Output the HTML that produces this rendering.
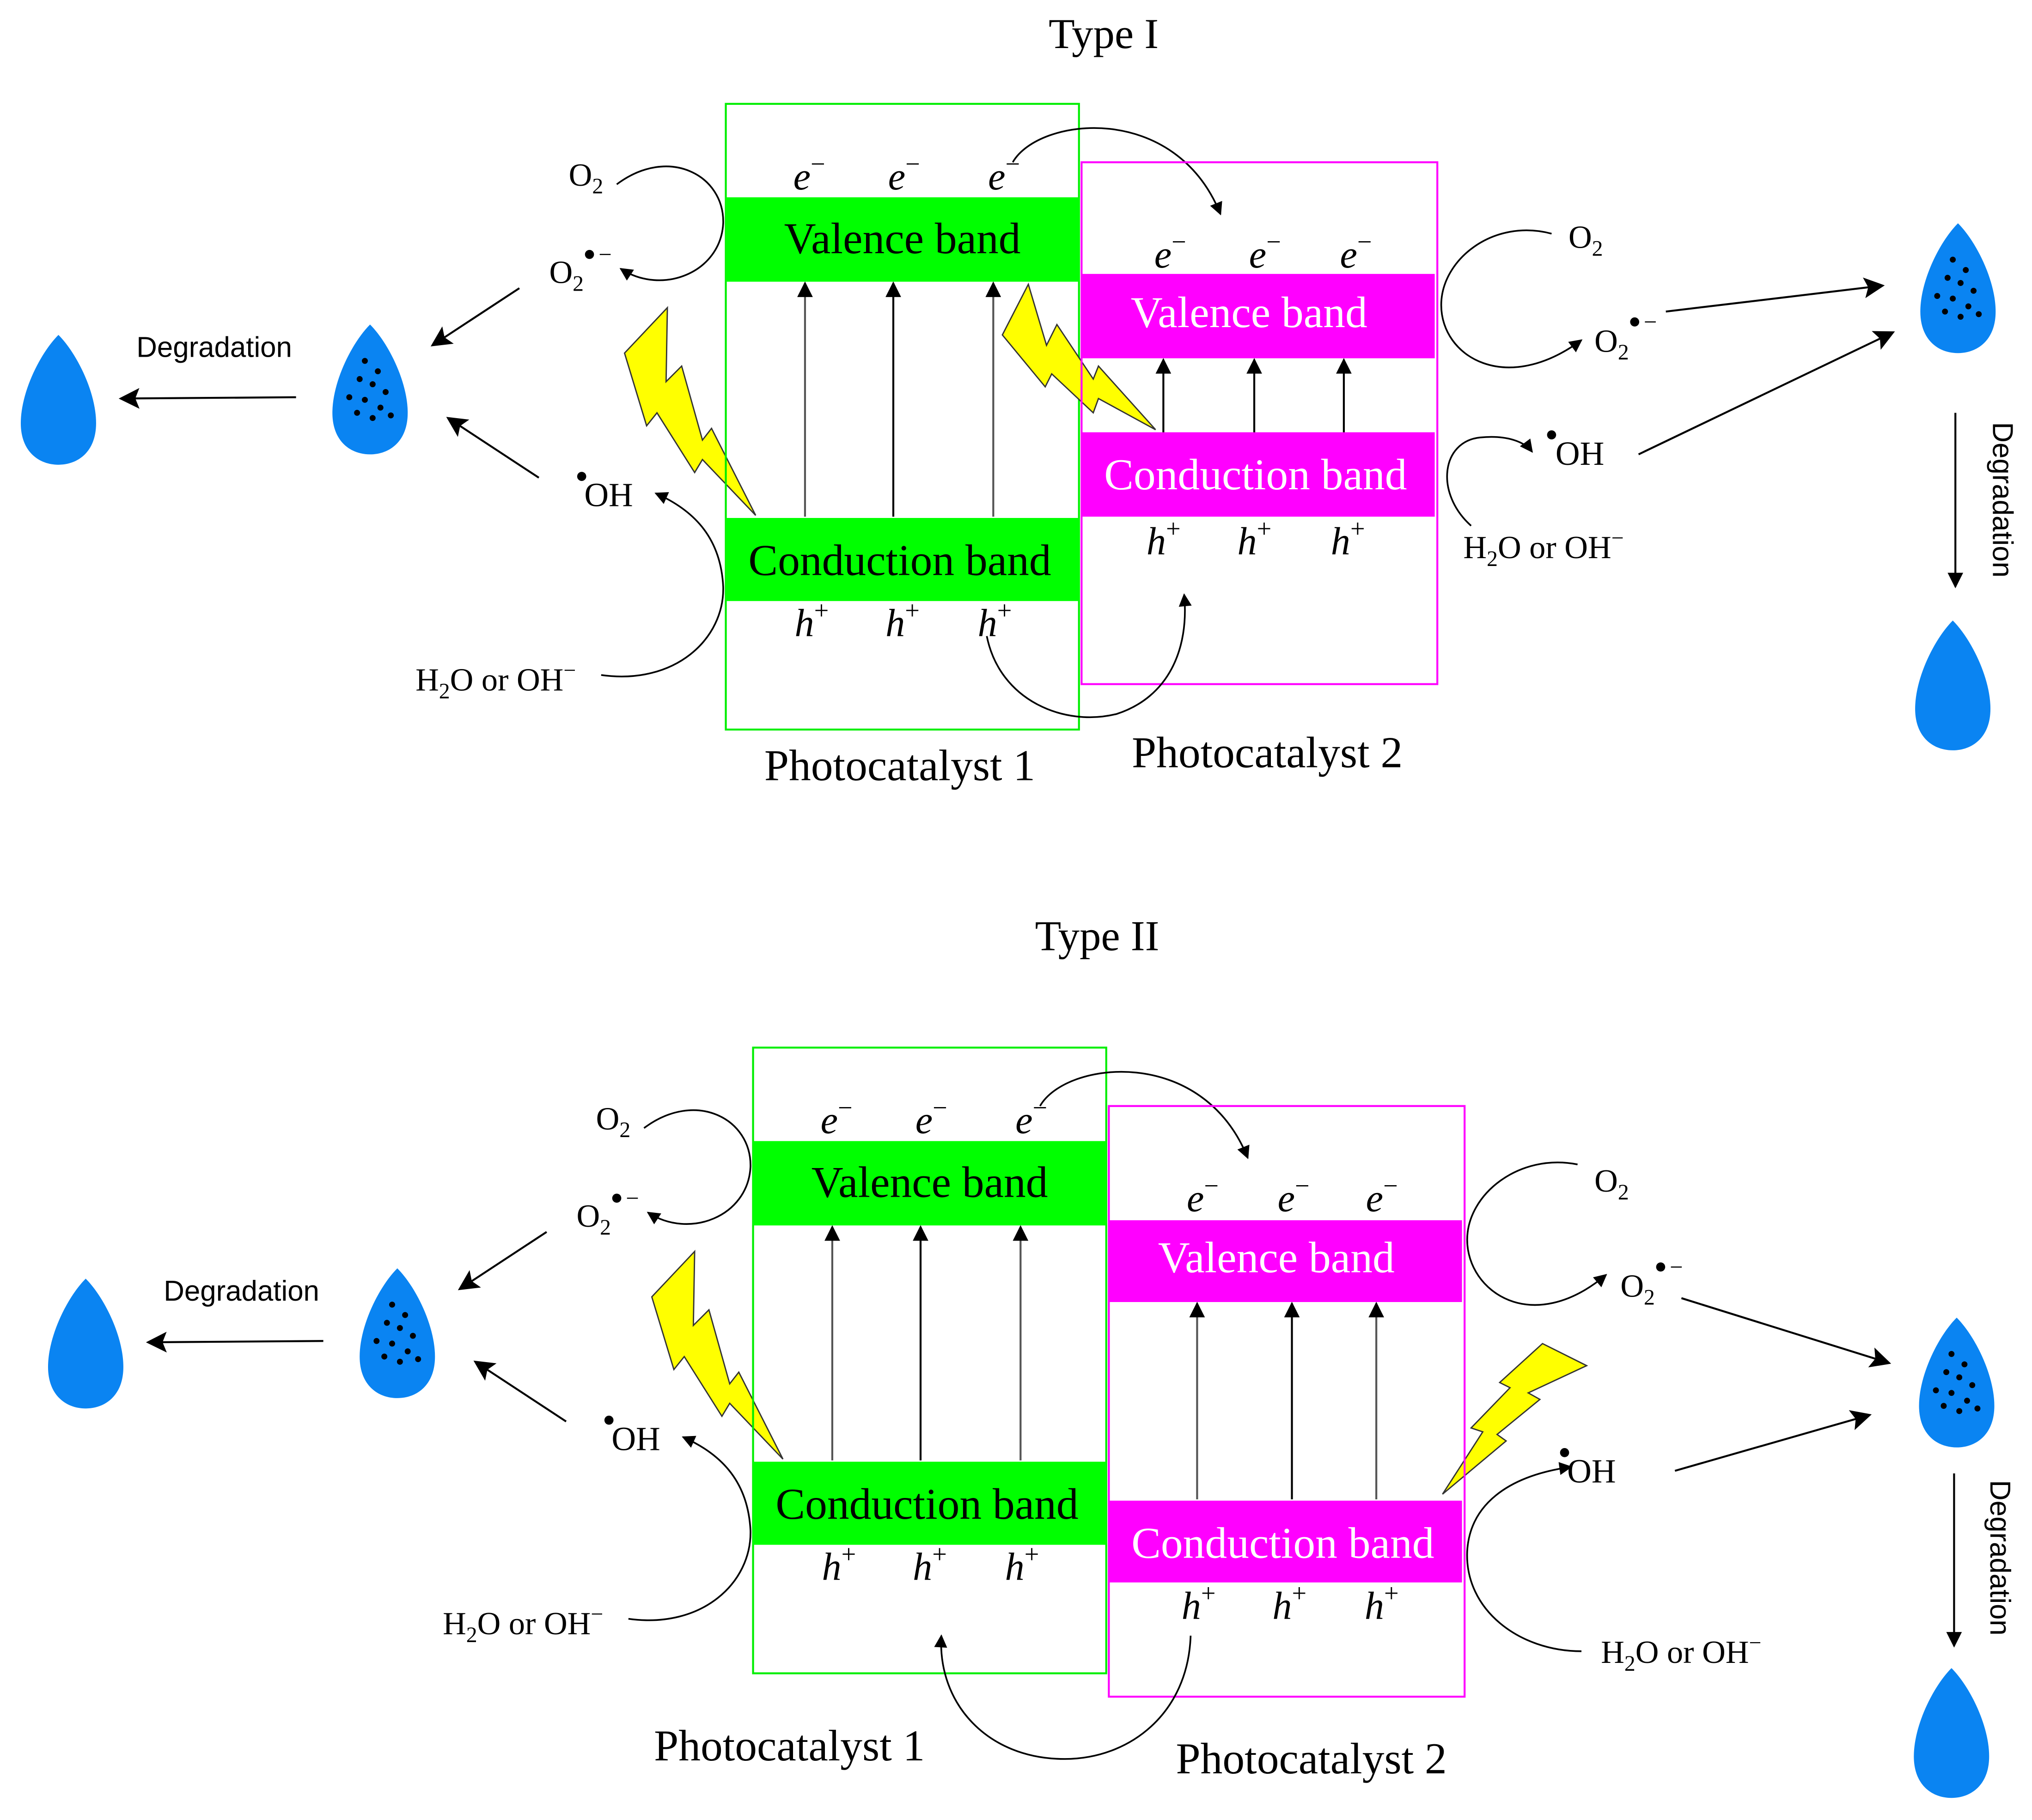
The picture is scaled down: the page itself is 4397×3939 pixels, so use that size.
<!DOCTYPE html>
<html><head><meta charset="utf-8"><style>
html,body{margin:0;padding:0;background:#fff;}
svg{display:block;}
.s{font-family:"Liberation Serif",serif;fill:#000;}
.a{font-family:"Liberation Sans",sans-serif;fill:#000;}
</style></head><body>
<svg width="4397" height="3939" viewBox="0 0 1565 1402" xmlns="http://www.w3.org/2000/svg">
<defs>
<marker id="ah" viewBox="0 0 10 10" refX="9" refY="5" markerWidth="12" markerHeight="10" markerUnits="userSpaceOnUse" orient="auto"><path d="M0,0L10,5L0,10z" fill="#000"/></marker>
<marker id="ab" viewBox="0 0 10 10" refX="9" refY="5" markerWidth="26" markerHeight="16" markerUnits="userSpaceOnUse" orient="auto"><path d="M0,0L10,5L0,10L2,5z" fill="#000"/></marker>
<marker id="av" viewBox="0 0 10 10" refX="9" refY="5" markerWidth="24" markerHeight="12" markerUnits="userSpaceOnUse" orient="auto"><path d="M0,0L10,5L0,10z" fill="#000"/></marker>
<g id="drop"><path d="M0,-50 C14,-36 29,-6 29,18 C29,40 15,50 0,50 C-15,50 -29,40 -29,18 C-29,-6 -14,-36 0,-50Z" fill="#0a84f2"/></g>
<g id="ddrop"><use href="#drop"/>
<circle cx="-4" cy="-22" r="2.3" fill="#000"/><circle cx="6" cy="-14" r="2.3" fill="#000"/><circle cx="-8" cy="-8" r="2.3" fill="#000"/><circle cx="2" cy="-4" r="2.3" fill="#000"/><circle cx="12" cy="2" r="2.3" fill="#000"/><circle cx="-16" cy="6" r="2.3" fill="#000"/><circle cx="-4" cy="8" r="2.3" fill="#000"/><circle cx="8" cy="14" r="2.3" fill="#000"/><circle cx="-10" cy="18" r="2.3" fill="#000"/><circle cx="2" cy="22" r="2.3" fill="#000"/><circle cx="16" cy="20" r="2.3" fill="#000"/></g>
<polygon id="boltL" points="514,237 481,272 498,328 506,318 535,364 541,354 582,397 548,330 541,339 525,282 513,294" fill="#ffff00" stroke="#333" stroke-width="1"/>
<g id="left">
 <text class="s" x="438" y="143" font-size="25">O<tspan font-size="17" dy="6">2</tspan></text>
 <text class="s" x="423" y="218" font-size="25">O<tspan font-size="17" dy="6">2</tspan></text>
 <circle cx="454" cy="196" r="3.5" fill="#000"/><text class="s" x="461" y="202" font-size="18">−</text>
 <path d="M475,142 C515,112 558,135 557,172 C555,210 510,228 478,207" fill="none" stroke="#000" stroke-width="1.3" marker-end="url(#ah)"/>
 <circle cx="448" cy="367" r="3.5" fill="#000"/>
 <text class="s" x="450" y="390" font-size="26">OH</text>
 <path d="M463,520 C520,528 558,492 557,452 C555,412 532,392 505,380" fill="none" stroke="#000" stroke-width="1.3" marker-end="url(#ah)"/>
 <text class="s" x="320" y="532" font-size="25">H<tspan font-size="17" dy="6">2</tspan><tspan dy="-6">O or OH</tspan><tspan font-size="17" dy="-10">−</tspan></text>
 <line x1="400" y1="222" x2="333" y2="266" stroke="#000" stroke-width="1.5" marker-end="url(#ab)"/>
 <line x1="415" y1="368" x2="345" y2="322" stroke="#000" stroke-width="1.5" marker-end="url(#ab)"/>
 <use href="#ddrop" x="285" y="300"/>
 <line x1="228" y1="306" x2="93" y2="307" stroke="#000" stroke-width="1.5" marker-end="url(#ab)"/>
 <text class="a" x="165" y="275" font-size="22" text-anchor="middle">Degradation</text>
 <use href="#drop" x="45" y="308"/>
 <use href="#boltL"/>
 <rect x="559" y="80" width="272" height="482" fill="none" stroke="#00ee00" stroke-width="1.5"/>
 <rect x="559" y="152" width="272" height="65" fill="#00ff00"/>
 <text class="s" x="695" y="195" font-size="34" text-anchor="middle">Valence band</text>
 <rect x="559" y="399" width="272" height="64" fill="#00ff00"/>
 <text class="s" x="693" y="443" font-size="34" text-anchor="middle">Conduction band</text>
 <g class="s" font-size="30" font-style="italic">
  <text x="611" y="146">e<tspan font-size="20" font-style="normal" dy="-13">−</tspan></text>
  <text x="684" y="146">e<tspan font-size="20" font-style="normal" dy="-13">−</tspan></text>
  <text x="761" y="146">e<tspan font-size="20" font-style="normal" dy="-13">−</tspan></text>
  <text x="612" y="490">h<tspan font-size="20" font-style="normal" dy="-13">+</tspan></text>
  <text x="682" y="490">h<tspan font-size="20" font-style="normal" dy="-13">+</tspan></text>
  <text x="753" y="490">h<tspan font-size="20" font-style="normal" dy="-13">+</tspan></text>
 </g>
 <line x1="620" y1="398" x2="620" y2="218" stroke="#555" stroke-width="1.5" marker-end="url(#av)"/>
 <line x1="688" y1="398" x2="688" y2="218" stroke="#000" stroke-width="1.5" marker-end="url(#av)"/>
 <line x1="765" y1="398" x2="765" y2="218" stroke="#555" stroke-width="1.5" marker-end="url(#av)"/>
 <path d="M780,125 C800,90 905,78 940,165" fill="none" stroke="#000" stroke-width="1.3" marker-end="url(#ah)"/>
</g>
</defs>

<text class="s" x="850" y="37" font-size="33" text-anchor="middle">Type I</text>
<use href="#left"/>
<polygon points="792,219 772,258 805,298 810,288 842,318 846,307 890,331 846,282 842,292 814,250 806,266" fill="#ffff00" stroke="#333" stroke-width="1"/>
<rect x="833" y="125" width="274" height="402" fill="none" stroke="#ff00ff" stroke-width="1.5"/>
<rect x="833" y="211" width="272" height="65" fill="#ff00ff"/>
<text class="s" x="962" y="252" font-size="34" text-anchor="middle" style="fill:#fff">Valence band</text>
<rect x="833" y="333" width="272" height="65" fill="#ff00ff"/>
<text class="s" x="967" y="377" font-size="34" text-anchor="middle" style="fill:#fff">Conduction band</text>
<g class="s" font-size="30" font-style="italic">
 <text x="889" y="206">e<tspan font-size="20" font-style="normal" dy="-13">−</tspan></text>
 <text x="962" y="206">e<tspan font-size="20" font-style="normal" dy="-13">−</tspan></text>
 <text x="1032" y="206">e<tspan font-size="20" font-style="normal" dy="-13">−</tspan></text>
 <text x="883" y="427">h<tspan font-size="20" font-style="normal" dy="-13">+</tspan></text>
 <text x="953" y="427">h<tspan font-size="20" font-style="normal" dy="-13">+</tspan></text>
 <text x="1025" y="427">h<tspan font-size="20" font-style="normal" dy="-13">+</tspan></text>
</g>
<line x1="896" y1="333" x2="896" y2="277" stroke="#000" stroke-width="1.5" marker-end="url(#av)"/>
<line x1="966" y1="333" x2="966" y2="277" stroke="#000" stroke-width="1.5" marker-end="url(#av)"/>
<line x1="1035" y1="333" x2="1035" y2="277" stroke="#000" stroke-width="1.5" marker-end="url(#av)"/>
<path d="M760,490 C770,540 820,560 860,550 C900,537 916,500 912,458" fill="none" stroke="#000" stroke-width="1.3" marker-end="url(#ah)"/>
<text class="s" x="693" y="601" font-size="34" text-anchor="middle">Photocatalyst 1</text>
<text class="s" x="976" y="591" font-size="34" text-anchor="middle">Photocatalyst 2</text>
<text class="s" x="1208" y="191" font-size="25">O<tspan font-size="17" dy="6">2</tspan></text>
<path d="M1195,180 C1150,168 1110,200 1110,235 C1110,275 1160,305 1218,262" fill="none" stroke="#000" stroke-width="1.3" marker-end="url(#ah)"/>
<text class="s" x="1228" y="271" font-size="25">O<tspan font-size="17" dy="6">2</tspan></text>
<circle cx="1259" cy="248" r="3.5" fill="#000"/><text class="s" x="1266" y="254" font-size="18">−</text>
<circle cx="1195" cy="335" r="3.5" fill="#000"/>
<text class="s" x="1198" y="358" font-size="26">OH</text>
<path d="M1133,405 C1105,380 1110,340 1140,337 C1160,335 1174,340 1180,348" fill="none" stroke="#000" stroke-width="1.3" marker-end="url(#ah)"/>
<text class="s" x="1127" y="430" font-size="25">H<tspan font-size="17" dy="6">2</tspan><tspan dy="-6">O or OH</tspan><tspan font-size="17" dy="-10">−</tspan></text>
<line x1="1283" y1="240" x2="1450" y2="220" stroke="#000" stroke-width="1.5" marker-end="url(#ab)"/>
<line x1="1262" y1="350" x2="1458" y2="256" stroke="#000" stroke-width="1.5" marker-end="url(#ab)"/>
<use href="#ddrop" x="1508" y="222"/>
<line x1="1506" y1="318" x2="1506" y2="452" stroke="#000" stroke-width="1.5" marker-end="url(#av)"/>
<text class="a" x="1535" y="385" font-size="22" text-anchor="middle" transform="rotate(90 1535 385)">Degradation</text>
<use href="#drop" x="1504" y="528"/>

<text class="s" x="845" y="732" font-size="33" text-anchor="middle">Type II</text>
<use href="#left" x="21" y="727"/>
<polygon points="1222,1052 1188,1035 1155,1065 1163,1069 1133,1100 1142,1103 1111,1151 1160,1110 1153,1105 1186,1078 1177,1073" fill="#ffff00" stroke="#333" stroke-width="1"/>
<rect x="854" y="852" width="274" height="455" fill="none" stroke="#ff00ff" stroke-width="1.5"/>
<rect x="854" y="940" width="272" height="63" fill="#ff00ff"/>
<text class="s" x="983" y="980" font-size="34" text-anchor="middle" style="fill:#fff">Valence band</text>
<rect x="854" y="1156" width="272" height="63" fill="#ff00ff"/>
<text class="s" x="988" y="1200" font-size="34" text-anchor="middle" style="fill:#fff">Conduction band</text>
<g class="s" font-size="30" font-style="italic">
 <text x="914" y="933">e<tspan font-size="20" font-style="normal" dy="-13">−</tspan></text>
 <text x="984" y="933">e<tspan font-size="20" font-style="normal" dy="-13">−</tspan></text>
 <text x="1052" y="933">e<tspan font-size="20" font-style="normal" dy="-13">−</tspan></text>
 <text x="910" y="1247">h<tspan font-size="20" font-style="normal" dy="-13">+</tspan></text>
 <text x="980" y="1247">h<tspan font-size="20" font-style="normal" dy="-13">+</tspan></text>
 <text x="1051" y="1247">h<tspan font-size="20" font-style="normal" dy="-13">+</tspan></text>
</g>
<line x1="922" y1="1155" x2="922" y2="1004" stroke="#555" stroke-width="1.5" marker-end="url(#av)"/>
<line x1="995" y1="1155" x2="995" y2="1004" stroke="#000" stroke-width="1.5" marker-end="url(#av)"/>
<line x1="1060" y1="1155" x2="1060" y2="1004" stroke="#555" stroke-width="1.5" marker-end="url(#av)"/>
<path d="M917,1260 C915,1320 870,1355 820,1355 C760,1355 722,1312 725,1260" fill="none" stroke="#000" stroke-width="1.3" marker-end="url(#ah)"/>
<text class="s" x="608" y="1356" font-size="34" text-anchor="middle">Photocatalyst 1</text>
<text class="s" x="1010" y="1366" font-size="34" text-anchor="middle">Photocatalyst 2</text>
<text class="s" x="1228" y="918" font-size="25">O<tspan font-size="17" dy="6">2</tspan></text>
<path d="M1215,897 C1170,888 1130,920 1130,955 C1130,995 1180,1030 1237,982" fill="none" stroke="#000" stroke-width="1.3" marker-end="url(#ah)"/>
<text class="s" x="1248" y="999" font-size="25">O<tspan font-size="17" dy="6">2</tspan></text>
<circle cx="1279" cy="976" r="3.5" fill="#000"/><text class="s" x="1286" y="982" font-size="18">−</text>
<circle cx="1205" cy="1119" r="3.5" fill="#000"/>
<text class="s" x="1207" y="1142" font-size="26">OH</text>
<path d="M1218,1272 C1170,1272 1128,1240 1130,1195 C1132,1160 1160,1137 1210,1130" fill="none" stroke="#000" stroke-width="1.3" marker-end="url(#ah)"/>
<text class="s" x="1233" y="1281" font-size="25">H<tspan font-size="17" dy="6">2</tspan><tspan dy="-6">O or OH</tspan><tspan font-size="17" dy="-10">−</tspan></text>
<line x1="1295" y1="1000" x2="1455" y2="1050" stroke="#000" stroke-width="1.5" marker-end="url(#ab)"/>
<line x1="1290" y1="1133" x2="1440" y2="1090" stroke="#000" stroke-width="1.5" marker-end="url(#ab)"/>
<use href="#ddrop" x="1507" y="1065"/>
<line x1="1505" y1="1135" x2="1505" y2="1268" stroke="#000" stroke-width="1.5" marker-end="url(#av)"/>
<text class="a" x="1533" y="1200" font-size="22" text-anchor="middle" transform="rotate(90 1533 1200)">Degradation</text>
<use href="#drop" x="1503" y="1335"/>
</svg>
</body></html>
